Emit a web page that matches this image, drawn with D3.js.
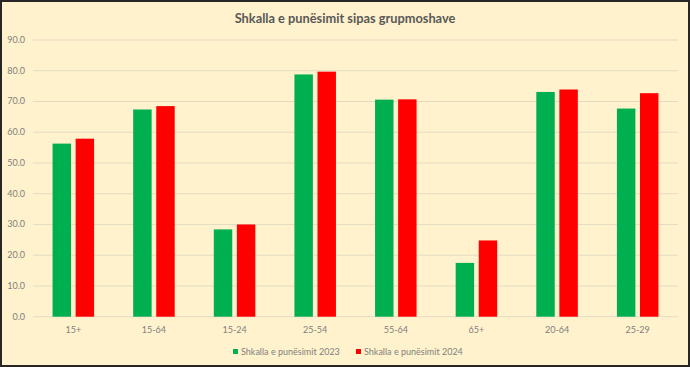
<!DOCTYPE html>
<html>
<head>
<meta charset="utf-8">
<script src="https://cdn.jsdelivr.net/npm/d3@7"></script>
<style>
  html, body { margin: 0; padding: 0; background: #fff; }
  svg { display: block; font-family: Lato, "Open Sans", sans-serif; }
</style>
</head>
<body>
<div id="chart"></div>
<script>
const categories = ['15+', '15-64', '15-24', '25-54', '55-64', '65+', '20-64', '25-29'];
const series = ['Shkalla e punësimit 2023', 'Shkalla e punësimit 2024'];
const values2023 = [56.3, 67.4, 28.4, 78.8, 70.6, 17.5, 73.1, 67.7];
const values2024 = [57.9, 68.5, 30.0, 79.7, 70.7, 24.8, 73.9, 72.7];
const yTicks = [0, 10, 20, 30, 40, 50, 60, 70, 80, 90];
const colors = ['#00b050', '#ff0000'];

const width = 690, height = 367;
const plot = {left: 33, right: 678, top: 40, bottom: 316.7};

const svg = d3.select('#chart')
    .append('svg')
    .attr('width', width)
    .attr('height', height);

// background + frame
svg.append('rect')
    .attr('x', 1).attr('y', 1)
    .attr('width', width - 2).attr('height', height - 2)
    .attr('fill', '#fff2cc')
    .attr('stroke', '#262626')
    .attr('stroke-width', 2);

svg.append('text')
    .attr('x', 345)
    .attr('y', 23)
    .attr('text-anchor', 'middle')
    .style('font-size', '12.8px')
    .style('font-weight', 'bold')
    .attr('fill', '#595959')
    .text('Shkalla e punësimit sipas grupmoshave');

const y = d3.scaleLinear().domain([0, 90]).range([plot.bottom, plot.top]);

const x0 = d3.scaleBand()
    .domain(categories)
    .range([plot.left, plot.right])
    .paddingInner(0.485)
    .paddingOuter(0.2425);

const x1 = d3.scaleBand()
    .domain(series)
    .range([0, x0.bandwidth()])
    .paddingInner(0.2);

// grid
svg.append('g')
    .selectAll('line')
    .data(yTicks)
    .enter()
    .append('line')
    .attr('x1', plot.left)
    .attr('x2', plot.right)
    .attr('y1', d => y(d))
    .attr('y2', d => y(d))
    .attr('stroke', '#e3dcc4')
    .attr('stroke-width', 1);

// y labels
svg.append('g')
    .selectAll('text')
    .data(yTicks)
    .enter()
    .append('text')
    .attr('x', 25)
    .attr('y', d => y(d) + 3)
    .attr('text-anchor', 'end')
    .style('font-size', '9px')
    .attr('fill', '#7f7f7f')
    .text(d => d.toFixed(1));

const rows = categories.map((c, i) => ({cat: c, vals: [values2023[i], values2024[i]]}));

const groups = svg.append('g')
    .selectAll('g')
    .data(rows)
    .enter()
    .append('g')
    .attr('transform', d => 'translate(' + x0(d.cat) + ',0)');

groups.selectAll('rect')
    .data(d => d.vals.map((v, j) => ({s: series[j], v: v, j: j})))
    .enter()
    .append('rect')
    .attr('x', d => x1(d.s))
    .attr('width', x1.bandwidth())
    .attr('y', d => y(d.v))
    .attr('height', d => y(0) - y(d.v))
    .attr('fill', d => colors[d.j]);

// x labels
svg.append('g')
    .selectAll('text')
    .data(categories)
    .enter()
    .append('text')
    .attr('x', d => x0(d) + x0.bandwidth() / 2)
    .attr('y', 333)
    .attr('text-anchor', 'middle')
    .style('font-size', '9px')
    .attr('fill', '#7f7f7f')
    .text(d => d);

// legend
const legendX = [233, 356];
const legend = svg.append('g')
    .selectAll('g')
    .data(series)
    .enter()
    .append('g')
    .attr('transform', (d, i) => 'translate(' + legendX[i] + ',349)');

legend.append('rect')
    .attr('width', 5)
    .attr('height', 5)
    .attr('y', 0)
    .attr('fill', (d, i) => colors[i]);

legend.append('text')
    .attr('x', 8)
    .attr('y', 6.2)
    .style('font-size', '9px')
    .attr('fill', '#7f7f7f')
    .text(d => d);
</script>
</body>
</html>
